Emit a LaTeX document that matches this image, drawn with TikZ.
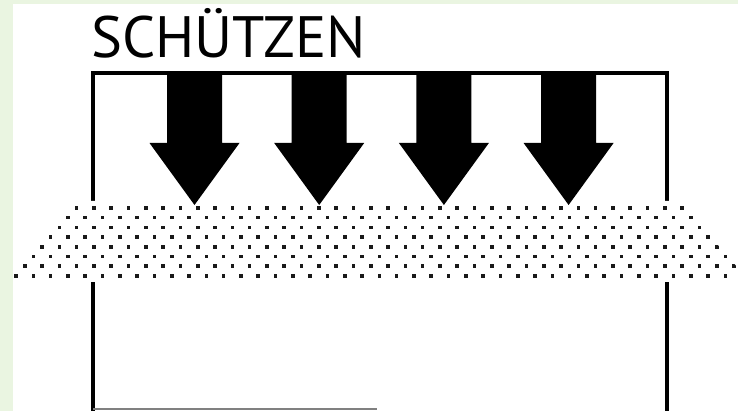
\documentclass[tikz,border=0pt]{standalone}
\usepackage{fontspec}
\setmainfont{PT Sans}
\usepackage{tikz}

\definecolor{pagegreen}{HTML}{EAF5E1}

\begin{document}
\begin{tikzpicture}[
  x=0.025cm, y=-0.025cm,
  frame/.style={draw=black, line width=2.2pt},
  shield/.style={fill=white},
  pfeil/.style={fill=black},
  dot/.style={fill=black!90},
  title/.style={font=\fontsize{41.5}{48}\selectfont, inner sep=0pt,
                anchor=base west}
]
\useasboundingbox (0,0) rectangle (738,411);
\fill[pagegreen] (0,0) rectangle (738,411);
\fill[white] (13,4) rectangle (738,411);

\node[title] (head) at (91,58) {SCHÜTZEN};
\draw[frame] (93,420) -- (93,73) -- (667,73) -- (667,420);
\draw[gray, line width=1.4pt] (93,409) -- (377,409);

% band behind the dots
\fill[shield] (74,201) -- (683,201) -- (752,282) -- (13,282) -- (13,262) -- cycle;

% four arrows pressing down
\foreach \c in {194.5,319.2,443.9,568.6}
  \fill[pfeil] ({\c-27.5},73) -- ({\c+27.5},73) -- ({\c+27.5},143)
    -- ({\c+45},143) -- (\c,205) -- ({\c-45},143) -- ({\c-27.5},143) -- cycle;

% dotted layer
\begin{scope}
  \clip (74,204) -- (683,204) -- (749,281) -- (8,281) -- cycle;
  \foreach \k in {0,...,7}
    \foreach \j in {-3,...,42}
      \fill[dot] ({42+17.3*\j+8.65*mod(\k,2)-1.8},{208+9.7*\k-1.8})
        rectangle +(3.6,3.6);
\end{scope}
\end{tikzpicture}
\end{document}
